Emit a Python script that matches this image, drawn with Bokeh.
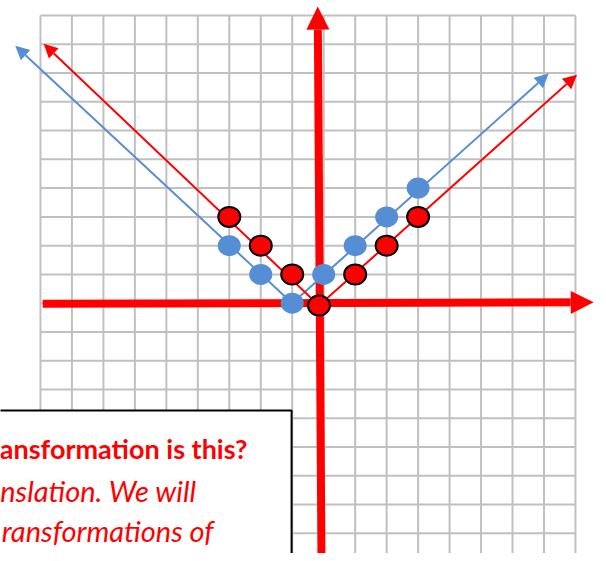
import numpy as np
from bokeh.plotting import figure
from bokeh.models import Range1d, Arrow, NormalHead
from bokeh.core.properties import value
from bokeh.embed import file_html
from bokeh.resources import INLINE

# ---- data ----
blue_x = [-3, -2, -1, 0, 1, 2, 3]          # y = |x + 1|
blue_y = [2, 1, 0, 1, 2, 3, 4]
red_x = [-3, -2, -1, -0.15, 1, 2, 3]       # y = |x|
red_y = [3, 2, 1, -0.08, 1, 2, 3]

blue_vertex = (-1.0, 0.0)
red_vertex = (-0.15, -0.08)
blue_tips_x = [-9.8, 7.15]
blue_tips_y = [8.95, 7.98]
red_tips_x = [-8.9, 8.05]
red_tips_y = [9.02, 7.94]

grid_x = list(range(-9, 9))
grid_y = list(range(-8, 11))

xaxis_x = [-8.93, 8.58]
xaxis_y = [-0.02, 0.03]
yaxis_x = [-0.07, -0.19]
yaxis_y = [-9.0, 10.31]

box_lrtb = (-11.0, -1.02, -3.73, -10.0)
text_lines = ["ansformation is this?", "nslation.  We will",
              "ransformations of", "s at a later date."]
text_right = [-2.42, -3.82, -3.50, -4.0]
text_base = [-5.06, -6.51, -7.905, -9.2]
text_styles = ["bold", "italic", "italic", "italic"]
text_sizes = ["27px", "29px", "29px", "29px"]

RED = "#ff0000"
BLUE = "#558ed5"
GRID = "#c0c0c0"

p = figure(width=598, height=553, x_range=Range1d(-10.27, 8.732),
           y_range=Range1d(-8.70, 10.521), toolbar_location=None,
           output_backend="svg", min_border=0,
           x_axis_location=None, y_axis_location=None)
p.grid.visible = False
p.outline_line_color = None
p.background_fill_color = "white"
p.border_fill_color = "white"

# grid
p.segment(x0=grid_x, y0=[grid_y[-1]] * len(grid_x), x1=grid_x, y1=[-9.5] * len(grid_x),
          line_color=GRID, line_width=2, level="image")
p.segment(x0=[grid_x[0]] * len(grid_y), y0=grid_y, x1=[grid_x[-1]] * len(grid_y), y1=grid_y,
          line_color=GRID, line_width=2, level="image")

# axes
p.add_layout(Arrow(end=NormalHead(size=23, fill_color=RED, line_color=RED, line_width=0),
                   x_start=xaxis_x[0], y_start=xaxis_y[0], x_end=xaxis_x[1], y_end=xaxis_y[1],
                   line_color=RED, line_width=8, level="underlay"))
p.add_layout(Arrow(end=NormalHead(size=23, fill_color=RED, line_color=RED, line_width=0),
                   x_start=yaxis_x[0], y_start=yaxis_y[0], x_end=yaxis_x[1], y_end=yaxis_y[1],
                   line_color=RED, line_width=8, level="underlay"))

# V lines with arrowheads
for tx, ty in zip(blue_tips_x, blue_tips_y):
    p.add_layout(Arrow(end=NormalHead(size=14, fill_color=BLUE, line_color=BLUE, line_width=0),
                       x_start=blue_vertex[0], y_start=blue_vertex[1], x_end=tx, y_end=ty,
                       line_color=BLUE, line_width=2, level="underlay"))
for tx, ty in zip(red_tips_x, red_tips_y):
    p.add_layout(Arrow(end=NormalHead(size=14, fill_color=RED, line_color=RED, line_width=0),
                       x_start=red_vertex[0], y_start=red_vertex[1], x_end=tx, y_end=ty,
                       line_color=RED, line_width=2, level="underlay"))

# dots
p.ellipse(x=blue_x, y=blue_y, width=23, height=21, width_units="screen",
          height_units="screen", fill_color=BLUE, line_color=None)
p.ellipse(x=red_x, y=red_y, width=22, height=20, width_units="screen",
          height_units="screen", fill_color=RED, line_color="black", line_width=2)

# text box
l, r, t, b = box_lrtb
p.quad(left=[l], right=[r], top=[t], bottom=[b], fill_color="white",
       line_color="black", line_width=2)
for s, xr, yb, st, fs in zip(text_lines, text_right, text_base, text_styles, text_sizes):
    p.text(x=[xr], y=[yb], text=[s], text_align="right", text_baseline="alphabetic",
           text_color=RED, text_font=value("Lato"), text_font_size=fs,
           text_font_style=st)

open("out.html", "w").write(file_html(p, INLINE))
